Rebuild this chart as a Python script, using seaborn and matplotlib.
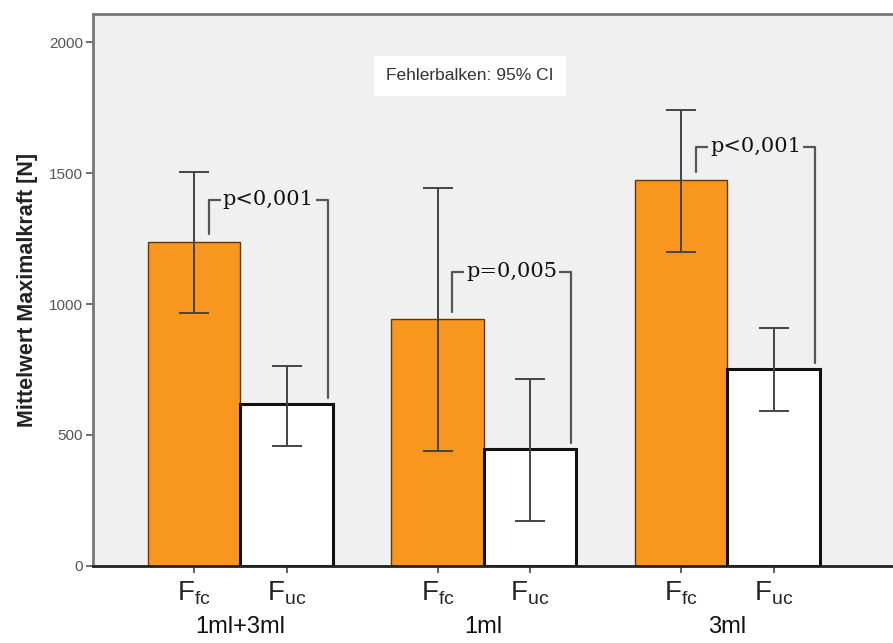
import pandas as pd
import matplotlib.pyplot as plt
import seaborn as sns
from matplotlib.transforms import blended_transform_factory

# Data (Mittelwert Maximalkraft [N], 95% CI)
groups = ['1ml+3ml', '1ml', '3ml']
measures = ['Ffc', 'Fuc']
tick_labels = [r'$\mathregular{F_{fc}}$', r'$\mathregular{F_{uc}}$']

ffc_mean = [1238, 941, 1474]
ffc_low = [964, 438, 1200]
ffc_high = [1503, 1444, 1741]

fuc_mean = [617, 446, 750]
fuc_low = [457, 171, 590]
fuc_high = [762, 712, 910]

p_labels = ['p<0,001', 'p=0,005', 'p<0,001']

df = pd.DataFrame({
    'group': groups * 2,
    'measure': ['Ffc'] * 3 + ['Fuc'] * 3,
    'mean': ffc_mean + fuc_mean,
    'low': ffc_low + fuc_low,
    'high': ffc_high + fuc_high,
})

sns.set_style('white')
plt.rcParams['font.family'] = ['Liberation Sans', 'DejaVu Sans']

fig = plt.figure(figsize=(8.93, 6.43), dpi=100)
ax = fig.add_axes([0.104, 0.120, 0.896, 0.858])
ax.set_facecolor('#f0f0f0')

sns.barplot(data=df, x='group', y='mean', hue='measure', order=groups,
            hue_order=measures, palette=['#f8961d', '#ffffff'], saturation=1,
            width=0.76, errorbar=None, legend=False, ax=ax, zorder=2)

# Styling bars and drawing the CI whiskers
centers = {}
for container, m in zip(ax.containers, measures):
    sub = df[df['measure'] == m].set_index('group').loc[groups]
    xs = []
    for bar in container:
        if m == 'Ffc':
            bar.set_edgecolor('#5a3a10')
            bar.set_linewidth(1.0)
        else:
            bar.set_edgecolor('#111111')
            bar.set_linewidth(2.2)
        xs.append(bar.get_x() + bar.get_width() / 2)
    centers[m] = xs
    ax.errorbar(xs, sub['mean'],
                yerr=[sub['mean'] - sub['low'], sub['high'] - sub['mean']],
                fmt='none', ecolor='#444444', elinewidth=1.4,
                capsize=11, capthick=1.4, zorder=4)

# Significance brackets
bracket_top = [1398, 1124, 1600]
for i in range(3):
    xl = centers['Ffc'][i] + 0.06
    xr = centers['Fuc'][i] + 0.17
    yl = ffc_mean[i] + 30
    yr = fuc_mean[i] + 25
    yt = bracket_top[i]
    ax.plot([xl, xl, xr, xr], [yl, yt, yt, yr], color='#555555', lw=1.6, zorder=3)
    ax.text((xl + xr) / 2, yt, p_labels[i], ha='center', va='center',
            fontsize=15, family=['DejaVu Serif'], color='#111111', zorder=5,
            bbox=dict(boxstyle='square,pad=0.1', fc='#f0f0f0', ec='none'))

# Axis styling
ax.set_xlim(-0.605, 2.68)
ax.set_ylim(0, 2107)
ax.set_yticks([0, 500, 1000, 1500, 2000])
ax.tick_params(axis='y', labelsize=11, labelcolor='#555555', color='#555555',
               length=5, width=1.2, direction='out', left=True, pad=2)
ax.set_ylabel('Mittelwert Maximalkraft [N]', fontsize=15.5, fontweight='bold',
              color='#222222', labelpad=8)

xt = [centers['Ffc'][i] if k == 0 else centers['Fuc'][i] for i in range(3) for k in range(2)]
ax.set_xticks(xt)
ax.set_xticklabels(tick_labels * 3, fontsize=20)
ax.tick_params(axis='x', length=5, width=1.2, color='#444444', direction='out',
               bottom=True, pad=5)
ax.set_xlabel('')

trans = blended_transform_factory(ax.transData, ax.transAxes)
for i, g in enumerate(groups):
    gx = (centers['Ffc'][i] + centers['Fuc'][i]) / 2
    ax.text(gx, -0.11, g, transform=trans, ha='center', va='center',
            fontsize=17, color='#111111')

for side in ['left', 'top']:
    ax.spines[side].set_color('#777777')
    ax.spines[side].set_linewidth(2)
ax.spines['bottom'].set_color('#222222')
ax.spines['bottom'].set_linewidth(2)
ax.spines['right'].set_visible(False)

ax.text(0.471, 0.888, 'Fehlerbalken: 95% CI', transform=ax.transAxes,
        ha='center', va='center', fontsize=12.5, color='#333333',
        bbox=dict(boxstyle='square,pad=0.7', fc='white', ec='none'))

plt.savefig('out.png', dpi=100)
